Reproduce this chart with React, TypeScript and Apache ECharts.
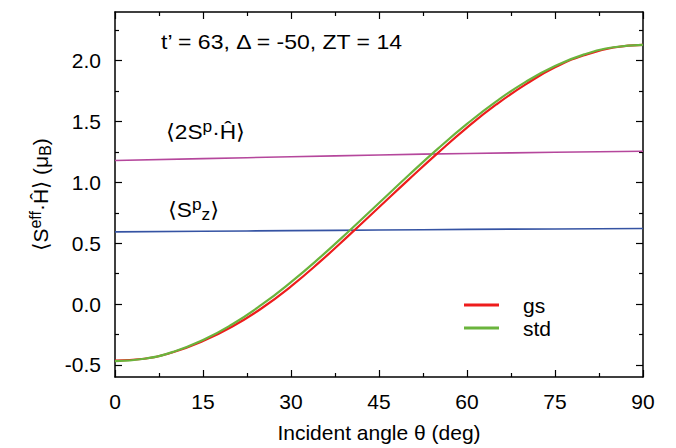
import React, { useEffect, useRef } from 'react';
import * as echarts from 'echarts';

const angles = [0, 5, 10, 15, 20, 25, 30, 35, 40, 45, 50, 55, 60, 65, 70, 75, 80, 85, 90];
const gsValues = [-0.465, -0.45, -0.395, -0.305, -0.185, -0.035, 0.145, 0.35, 0.57, 0.795, 1.02, 1.24, 1.45, 1.64, 1.805, 1.945, 2.045, 2.108, 2.13];
const stdValues = [-0.47, -0.45, -0.392, -0.296, -0.166, -0.006, 0.18, 0.385, 0.604, 0.83, 1.056, 1.275, 1.48, 1.666, 1.826, 1.956, 2.052, 2.11, 2.13];
const flatAngles = [0, 15, 30, 45, 60, 75, 90];
const twoSpH = [1.18, 1.195, 1.21, 1.225, 1.237, 1.247, 1.255];
const spZ = [0.593, 0.598, 0.603, 0.608, 0.613, 0.617, 0.62];
const yMajorTicks = [-0.5, 0, 0.5, 1.0, 1.5, 2.0];
const yMinorTicks = [-0.25, 0.25, 0.75, 1.25, 1.75, 2.25];

const FONT = '"Liberation Sans", Arial, "DejaVu Sans", sans-serif';

const richBase = {
  a: { fontSize: 21, fontFamily: FONT, color: '#000', lineHeight: 26 },
  sup: { fontSize: 16, fontFamily: FONT, color: '#000', lineHeight: 16, verticalAlign: 'top' },
  sub: { fontSize: 16, fontFamily: FONT, color: '#000', lineHeight: 16, verticalAlign: 'bottom' },
};

export default function App() {
  const ref = useRef<HTMLDivElement>(null);
  useEffect(() => {
    if (!ref.current) return;
    const chart = echarts.init(ref.current, null, { renderer: 'svg' });
    const pair = (xs: number[], ys: number[]) => xs.map((x, i) => [x, ys[i]]);
    const xBase = {
      type: 'value',
      min: 0,
      max: 90,
      interval: 15,
      splitLine: { show: false },
      axisLine: { show: true, onZero: false, lineStyle: { color: '#000', width: 1.5 } },
      axisTick: { show: true, inside: true, length: 7, lineStyle: { color: '#000', width: 1.2 } },
      minorTick: { show: true, splitNumber: 2, length: 4, lineStyle: { color: '#000', width: 1.2 } },
    };
    const yBase = {
      type: 'value',
      min: -0.6,
      max: 2.4,
      splitLine: { show: false },
      axisLine: { show: true, onZero: false, lineStyle: { color: '#000', width: 1.5 } },
    };
    const option = {
      animation: false,
      grid: { left: 115, right: 33, top: 12, bottom: 70, containLabel: false },
      legend: {
        data: ['gs', 'std'],
        orient: 'vertical',
        left: 464,
        top: 294.5,
        padding: 0,
        icon: 'rect',
        itemWidth: 35,
        itemHeight: 3,
        itemGap: 2,
        formatter: (name: string) => `{sp|}{t|${name}}`,
        textStyle: {
          fontSize: 21,
          fontFamily: FONT,
          color: '#000',
          rich: {
            sp: { width: 19 },
            t: { fontSize: 21, fontFamily: FONT, color: '#000', lineHeight: 21 },
          },
        },
      },
      xAxis: [
        {
          ...xBase,
          position: 'bottom',
          axisLabel: { show: true, fontSize: 21, fontFamily: FONT, color: '#000', margin: 14 },
          name: 'Incident angle θ (deg)',
          nameLocation: 'middle',
          nameGap: 45,
          nameTextStyle: { fontSize: 21, fontFamily: FONT, color: '#000' },
        },
        {
          ...xBase,
          position: 'top',
          axisLabel: { show: false },
        },
      ],
      yAxis: [
        {
          ...yBase,
          position: 'left',
          axisTick: { show: true, inside: true, length: 7, customValues: yMajorTicks, lineStyle: { color: '#000', width: 1.2 } },
          axisLabel: {
            show: true,
            customValues: yMajorTicks,
            fontSize: 21,
            fontFamily: FONT,
            color: '#000',
            margin: 14,
            formatter: (v: number) => v.toFixed(1),
          },
          name: '{a|⟨S}{sup|eff}{a|·Ĥ⟩ (μ}{sub|B}{a|)}',
          nameLocation: 'middle',
          nameRotate: 90,
          nameGap: 62,
          nameTextStyle: { rich: richBase },
        },
        {
          ...yBase,
          position: 'left',
          axisLine: { show: false, onZero: false },
          axisTick: { show: true, inside: true, length: 4, customValues: yMinorTicks, lineStyle: { color: '#000', width: 1.2 } },
          axisLabel: { show: false },
        },
        {
          ...yBase,
          position: 'right',
          axisTick: { show: true, inside: true, length: 7, customValues: yMajorTicks, lineStyle: { color: '#000', width: 1.2 } },
          axisLabel: { show: false },
        },
        {
          ...yBase,
          position: 'right',
          axisLine: { show: false, onZero: false },
          axisTick: { show: true, inside: true, length: 4, customValues: yMinorTicks, lineStyle: { color: '#000', width: 1.2 } },
          axisLabel: { show: false },
        },
      ],
      series: [
        {
          name: '2SpH',
          type: 'line',
          xAxisIndex: 0,
          yAxisIndex: 0,
          data: pair(flatAngles, twoSpH),
          smooth: true,
          showSymbol: false,
          lineStyle: { color: '#b5479c', width: 1.6 },
          itemStyle: { color: '#b5479c' },
        },
        {
          name: 'Spz',
          type: 'line',
          xAxisIndex: 0,
          yAxisIndex: 0,
          data: pair(flatAngles, spZ),
          smooth: true,
          showSymbol: false,
          lineStyle: { color: '#3553a3', width: 1.6 },
          itemStyle: { color: '#3553a3' },
        },
        {
          name: 'gs',
          type: 'line',
          xAxisIndex: 0,
          yAxisIndex: 0,
          data: pair(angles, gsValues),
          smooth: true,
          showSymbol: false,
          lineStyle: { color: '#ee1c1c', width: 2.2 },
          itemStyle: { color: '#ee1c1c' },
        },
        {
          name: 'std',
          type: 'line',
          xAxisIndex: 0,
          yAxisIndex: 0,
          data: pair(angles, stdValues),
          smooth: true,
          showSymbol: false,
          lineStyle: { color: '#6ab43c', width: 2.2 },
          itemStyle: { color: '#6ab43c' },
        },
      ],
      graphic: [
        {
          type: 'text',
          x: 161,
          y: 32,
          scaleX: 1.15,
          style: { text: 't’ = 63, Δ = -50, ZT = 14', font: `20px ${FONT}`, fill: '#000' },
        },
        {
          type: 'text',
          x: 166,
          y: 119,
          scaleX: 1.08,
          style: { text: '{a|⟨2S}{sup|p}{a|·Ĥ⟩}', rich: richBase },
        },
        {
          type: 'text',
          x: 168,
          y: 197,
          scaleX: 1.08,
          style: { text: '{a|⟨S}{sup|p}{sub|z}{a|⟩}', rich: richBase },
        },
      ],
    };
    chart.setOption(option as any);
    return () => chart.dispose();
  }, []);
  return <div ref={ref} style={{ position: 'absolute', left: 0, top: 0, width: 676, height: 448 }} />;
}
